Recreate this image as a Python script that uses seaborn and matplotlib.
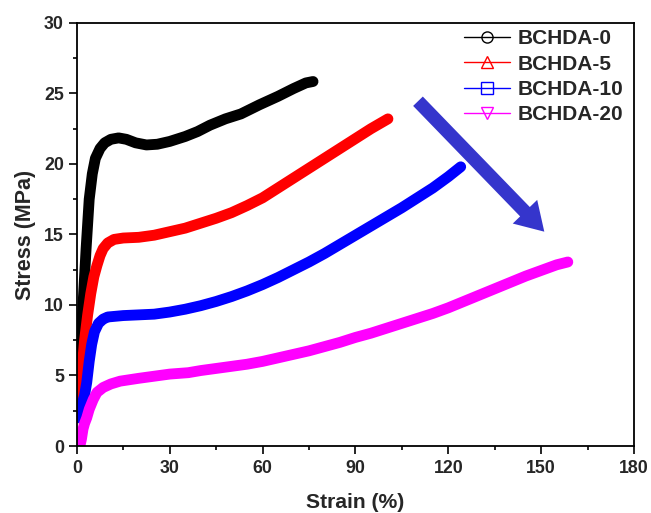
import numpy as np
import pandas as pd
import matplotlib
matplotlib.use("Agg")
import matplotlib.pyplot as plt
from matplotlib.lines import Line2D
from matplotlib.ticker import MultipleLocator
import seaborn as sns

# ---- data ----
samples = ["BCHDA-0", "BCHDA-5", "BCHDA-10", "BCHDA-20"]
colors = ["#000000", "#ff0000", "#0000ff", "#ff00ff"]
markers = ["o", "^", "s", "v"]

strain_0 = [0.3, 1, 2, 3, 4, 5, 6, 7.5, 9, 11, 13.5, 16, 19, 22.5, 26, 30, 35, 39,
            43, 48, 53, 59, 65, 70, 74, 76.3]
stress_0 = [3, 6.5, 10, 14, 17.5, 19.3, 20.4, 21.1, 21.5, 21.75, 21.85, 21.75, 21.5,
            21.35, 21.4, 21.6, 21.95, 22.3, 22.75, 23.2, 23.55, 24.2, 24.8, 25.35,
            25.75, 25.85]

strain_5 = [0.5, 1.5, 2.5, 3.5, 4.5, 5.5, 6.5, 7.5, 8.5, 10, 12, 15, 20, 25, 30, 35,
            40, 45, 50, 55, 60, 65, 70, 75, 80, 85, 90, 95, 100.5]
stress_5 = [2, 5, 7.5, 9.3, 10.8, 12, 12.8, 13.5, 14, 14.4, 14.65, 14.75, 14.8, 14.95,
            15.2, 15.45, 15.8, 16.15, 16.55, 17.05, 17.6, 18.3, 19, 19.7, 20.4, 21.1,
            21.8, 22.5, 23.2]

strain_10 = [0.3, 1.5, 2.5, 3.2, 4, 4.8, 5.7, 7, 8.5, 10, 15, 20, 25, 30, 35, 40, 45,
             50, 55, 60, 65, 70, 75, 80, 85, 90, 95, 100, 105, 110, 115, 120, 124]
stress_10 = [2, 2.8, 3.6, 4.5, 6, 7.2, 8.1, 8.7, 9.0, 9.15, 9.25, 9.3, 9.35, 9.5, 9.7,
             9.95, 10.25, 10.6, 11.0, 11.45, 11.95, 12.5, 13.05, 13.65, 14.3, 14.95,
             15.6, 16.25, 16.9, 17.6, 18.3, 19.1, 19.8]

strain_20 = [1, 1.5, 2, 2.5, 3.2, 4, 5.3, 6.5, 8.5, 11, 14, 20, 25, 30, 36, 40, 45, 50,
             55, 60, 65, 70, 75, 80, 85, 90, 95, 100, 105, 110, 115, 120, 125, 130,
             135, 140, 145, 150, 155, 158.6]
stress_20 = [0, 0.5, 1.2, 1.6, 2, 2.6, 3.3, 3.8, 4.15, 4.4, 4.6, 4.8, 4.95, 5.1, 5.2,
             5.35, 5.5, 5.65, 5.8, 6.0, 6.25, 6.5, 6.75, 7.05, 7.35, 7.7, 8.0, 8.35,
             8.7, 9.05, 9.4, 9.8, 10.25, 10.7, 11.15, 11.6, 12.05, 12.45, 12.85, 13.05]

x_ticks = [0, 30, 60, 90, 120, 150, 180]
y_ticks = [0, 5, 10, 15, 20, 25, 30]

strains = [strain_0, strain_5, strain_10, strain_20]
stresses = [stress_0, stress_5, stress_10, stress_20]
df = pd.concat(
    [pd.DataFrame({"strain": s, "stress": t, "sample": n})
     for s, t, n in zip(strains, stresses, samples)],
    ignore_index=True,
)

# ---- style ----
sns.set_style("ticks")
plt.rcParams["font.family"] = ["Liberation Sans", "DejaVu Sans"]
plt.rcParams["font.weight"] = "bold"

fig = plt.figure(figsize=(6.51, 5.13), dpi=100)
ax = fig.add_axes([0.118, 0.1306, 0.856, 0.8246])

sns.lineplot(data=df, x="strain", y="stress", hue="sample", hue_order=samples,
             palette=colors, sort=False, estimator=None, linewidth=7.8,
             legend=False, ax=ax)

ax.set_xlim(0, 180)
ax.set_ylim(0, 30)
ax.set_xticks(x_ticks)
ax.set_yticks(y_ticks)
ax.xaxis.set_minor_locator(MultipleLocator(15))
ax.yaxis.set_minor_locator(MultipleLocator(2.5))
ax.tick_params(which="major", direction="out", length=5.8, width=1.2,
               labelsize=12.8, color="black")
ax.tick_params(which="minor", direction="out", length=3, width=1.2, color="black")
ax.tick_params(axis="x", pad=4.5)
for lab in ax.get_xticklabels() + ax.get_yticklabels():
    lab.set_fontweight("bold")
for sp in ax.spines.values():
    sp.set_linewidth(1.3)
    sp.set_color("black")

ax.set_xlabel("Strain (%)", fontsize=15.2, fontweight="bold", labelpad=11)
ax.set_ylabel("Stress (MPa)", fontsize=15.5, fontweight="bold", labelpad=6)

# arrow
ax.annotate("", xy=(151.0, 15.2), xytext=(110.2, 24.45),
            arrowprops=dict(arrowstyle="simple,head_length=20,head_width=24.5,tail_width=9.7",
                            mutation_scale=1, color="#3535cc", shrinkA=0, shrinkB=0,
                            linewidth=0))

handles = [Line2D([0], [0], color=c, lw=1, marker=m, markerfacecolor="none",
                  markeredgecolor=c, markersize=8, markeredgewidth=1)
           for c, m in zip(colors, markers)]
ax.legend(handles, samples, loc="upper right", bbox_to_anchor=(0.98, 0.985),
          frameon=False, prop={"size": 15, "weight": "bold"}, handlelength=2.2,
          handletextpad=0.35, labelspacing=0.3, borderpad=0, borderaxespad=0)

fig.savefig("out.png", dpi=100)
